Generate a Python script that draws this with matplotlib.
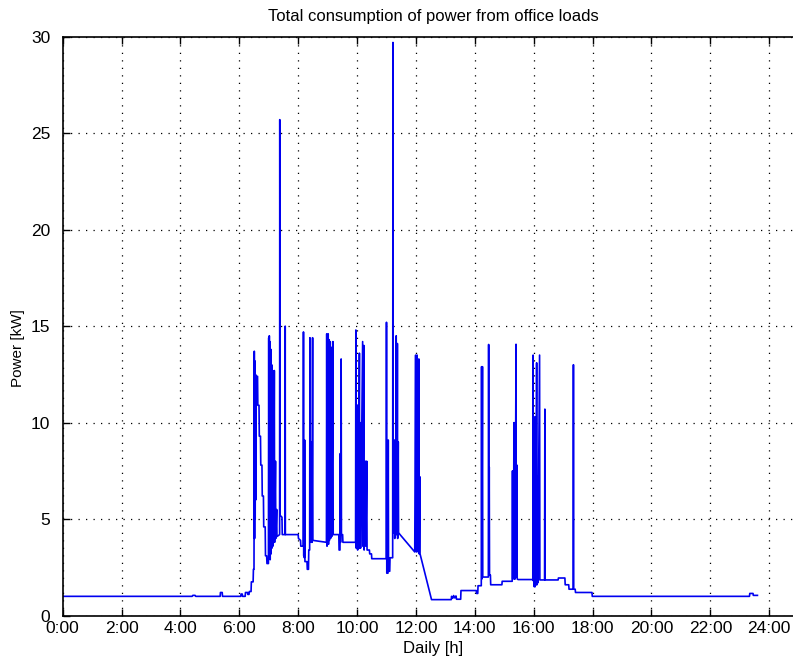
import matplotlib
matplotlib.use("Agg")
import matplotlib.pyplot as plt

plt.rcParams['font.family'] = ['Liberation Sans', 'DejaVu Sans']

hours = [0.00, 4.40, 4.42, 4.50, 4.52, 5.35, 5.36, 5.42, 5.43, 6.05, 6.06, 6.10, 6.11,
         6.20, 6.21, 6.28, 6.29, 6.33, 6.34, 6.40, 6.41, 6.47, 6.48, 6.50,
         6.51, 6.52, 6.53, 6.54, 6.55, 6.56, 6.57, 6.62, 6.63, 6.67, 6.68, 6.72, 6.73,
         6.77, 6.78, 6.82, 6.83, 6.88, 6.89, 6.93, 6.94, 6.99,
         7.00, 7.01, 7.02, 7.03, 7.04, 7.05, 7.07, 7.08, 7.10, 7.11, 7.13, 7.14, 7.16,
         7.17, 7.19, 7.20, 7.23, 7.24, 7.27, 7.28, 7.37, 7.375, 7.385, 7.45, 7.46,
         7.555, 7.56, 7.565, 8.00, 8.01, 8.08, 8.09, 8.17, 8.18, 8.19, 8.20, 8.21,
         8.22, 8.23, 8.30, 8.31, 8.35, 8.36, 8.39, 8.40, 8.41, 8.43, 8.44, 8.46, 8.47,
         8.49, 8.50, 8.96, 8.97, 8.98, 8.99, 9.00, 9.02, 9.03, 9.05, 9.06, 9.09, 9.10,
         9.13, 9.14, 9.18, 9.19, 9.38, 9.39, 9.42, 9.43, 9.44, 9.45, 9.46, 9.47, 9.51,
         9.52, 9.95, 9.96, 9.97, 9.98, 9.99, 10.01, 10.02, 10.04, 10.05, 10.08, 10.09,
         10.11, 10.12, 10.19, 10.20, 10.23, 10.24, 10.29, 10.30, 10.33, 10.34, 10.42,
         10.43, 10.49, 10.50, 10.99, 11.00, 11.01, 11.05, 11.06, 11.07, 11.11, 11.12,
         11.21, 11.22, 11.23, 11.26, 11.27, 11.28, 11.30, 11.31, 11.33, 11.34, 11.36,
         11.37, 11.38, 11.40, 11.41, 11.46, 11.96, 11.99, 12.00, 12.01, 12.02, 12.04,
         12.05, 12.07, 12.08, 12.10, 12.11, 12.13, 12.14, 12.53, 13.20, 13.21, 13.25,
         13.28, 13.32, 13.36, 13.38, 13.52, 13.53, 14.05, 14.06, 14.10, 14.11, 14.22,
         14.23, 14.24, 14.26, 14.27, 14.46, 14.47, 14.48, 14.49, 14.50, 14.53, 14.54,
         14.92, 14.93, 15.27, 15.28, 15.29, 15.30, 15.31, 15.33, 15.34, 15.36, 15.37,
         15.40, 15.41, 15.43, 15.44, 15.47, 15.97, 15.98, 15.99, 16.01, 16.02, 16.04,
         16.05, 16.07, 16.08, 16.10, 16.11, 16.13, 16.14, 16.20, 16.21, 16.37, 16.38,
         16.39, 16.83, 16.84, 17.06, 17.07, 17.19, 17.20, 17.34, 17.35, 17.36, 17.41,
         17.42, 17.98, 17.99, 23.33, 23.34, 23.45, 23.46, 23.60]
power_kw = [1.00, 1.00, 1.05, 1.05, 1.00, 1.00, 1.20, 1.20, 1.00, 1.00, 1.12, 1.12, 1.00,
            1.00, 1.20, 1.20, 1.10, 1.10, 1.25, 1.25, 1.75, 1.75, 2.40, 2.40,
            13.7, 4.0, 13.2, 5.0, 12.5, 6.0, 12.4, 12.4, 10.9, 10.9, 9.3, 9.3, 7.8,
            7.8, 6.2, 6.2, 4.6, 4.6, 3.1, 3.1, 2.7, 2.7,
            14.4, 3.0, 14.5, 3.4, 14.2, 2.9, 13.8, 3.2, 13.0, 3.5, 12.7, 3.6, 11.8,
            3.8, 12.7, 3.8, 8.0, 4.0, 5.5, 4.1, 4.2, 25.7, 5.2, 5.1, 4.2,
            4.2, 15.0, 4.2, 4.2, 4.0, 3.9, 3.6, 3.6, 14.7, 3.1, 9.1, 3.0,
            9.1, 2.8, 2.8, 2.4, 2.4, 3.4, 3.4, 14.4, 4.0, 9.0, 3.8, 9.0, 3.8,
            14.4, 3.9, 3.8, 14.6, 3.6, 14.4, 3.8, 14.6, 3.7, 14.3, 3.9, 14.2, 4.0,
            13.9, 4.1, 14.2, 4.2, 4.2, 3.4, 3.4, 8.4, 3.8, 8.4, 13.3, 4.2, 4.2,
            3.8, 3.8, 14.8, 3.5, 10.9, 3.6, 10.9, 3.4, 10.9, 3.5, 13.6, 3.5,
            10.0, 3.5, 14.2, 3.6, 14.0, 3.4, 8.0, 3.6, 8.0, 3.4, 3.4,
            3.2, 3.2, 2.95, 2.95, 15.2, 2.2, 2.2, 9.1, 2.3, 2.3, 3.0,
            3.0, 29.7, 4.3, 4.3, 9.1, 4.0, 7.1, 4.2, 14.5, 4.2, 7.1,
            14.1, 4.0, 9.0, 4.3, 4.2, 3.3, 13.5, 3.4, 13.4, 3.3, 13.5,
            3.4, 7.2, 3.3, 13.3, 3.2, 7.2, 3.2, 0.83, 0.83, 1.0, 0.9,
            1.04, 0.92, 1.02, 0.85, 0.85, 1.3, 1.3, 1.15, 1.15, 1.55, 1.55,
            12.9, 1.9, 12.9, 2.0, 2.0, 14.05, 2.2, 7.7, 2.1, 2.1, 1.6,
            1.6, 1.78, 1.78, 7.5, 1.9, 7.5, 2.0, 10.0, 1.9, 10.0, 1.9,
            14.06, 2.0, 7.8, 1.9, 1.87, 1.87, 13.5, 1.8, 7.2, 1.5, 10.3,
            1.5, 7.2, 1.6, 13.1, 1.6, 7.2, 1.7, 13.5, 1.85, 1.85, 10.7,
            1.85, 1.85, 1.95, 1.95, 1.6, 1.6, 1.37, 1.37, 13.0, 1.37, 1.37,
            1.2, 1.2, 1.0, 1.0, 1.15, 1.15, 1.05, 1.05]

x_ticks = [0, 2, 4, 6, 8, 10, 12, 14, 16, 18, 20, 22, 24]
x_labels = ['0:00', '2:00', '4:00', '6:00', '8:00', '10:00', '12:00',
            '14:00', '16:00', '18:00', '20:00', '22:00', '24:00']
y_ticks = [0, 5, 10, 15, 20, 25, 30]

fig = plt.figure(figsize=(7.93, 6.67), dpi=100)
# right edge of the box lies just past the picture, as in the original crop
ax = fig.add_axes([0.079, 0.077, 0.935, 0.868])

ax.plot(hours, power_kw, color='#0000f0', lw=1.2)

ax.set_xlim(0, (0.935 * 793) / 29.44)
ax.set_ylim(0, 30)
ax.set_xticks(x_ticks)
ax.set_xticklabels(x_labels)
ax.set_yticks(y_ticks)
ax.tick_params(direction='in', top=True, right=False, length=5, width=1,
               labelsize=12.5)
ax.tick_params(axis='y', pad=9)
ax.grid(True, color='k', linestyle=(0, (1, 5)), lw=0.9)
for s in ax.spines.values():
    s.set_linewidth(1.2)

ax.set_title('Total consumption of power from office loads', fontsize=12, pad=11)
ax.set_xlabel('Daily [h]', fontsize=12, labelpad=4)
ax.set_ylabel('Power [kW]', fontsize=11)
ax.yaxis.set_label_coords(-0.051, 0.463)

plt.savefig('out.png', dpi=100)
